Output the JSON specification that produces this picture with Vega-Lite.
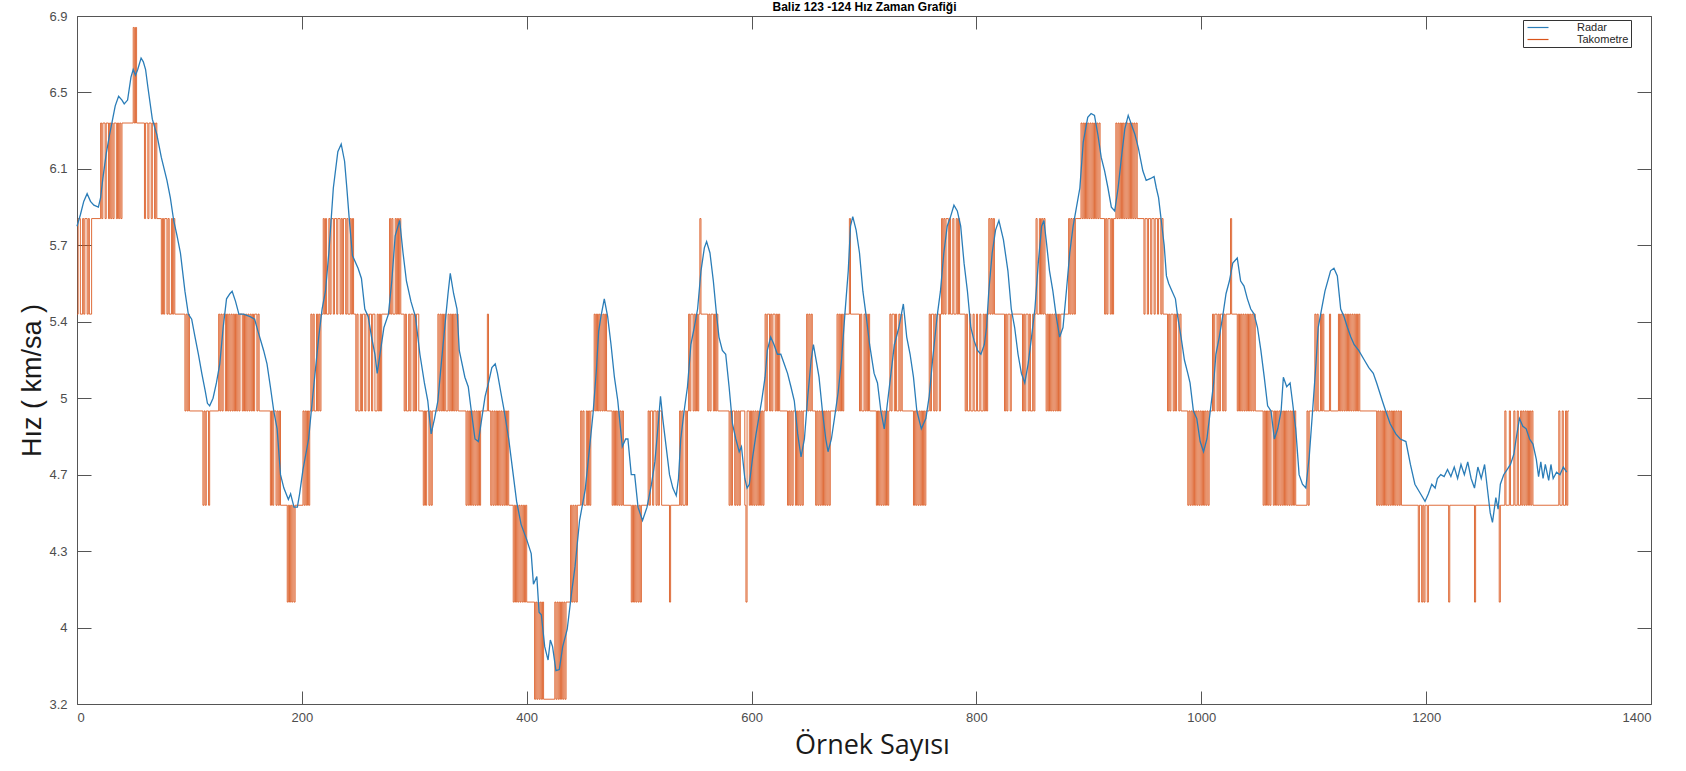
{
  "$schema": "https://vega.github.io/schema/vega-lite/v6.json",
  "width": 1574,
  "height": 688,
  "autosize": {"type": "none"},
  "padding": {"left": 77, "top": 16, "right": 35, "bottom": 67},
  "background": "white",
  "config": {
    "view": {"stroke": "#555555", "strokeWidth": 1},
    "axis": {"grid": false, "domain": false}
  },
  "datasets": {
    "radar": [
      {"n":0,"v":5.8},{"n":3,"v":5.86},{"n":6,"v":5.93},{"n":9,"v":5.97},{"n":12,"v":5.93},{"n":15,"v":5.91},{"n":19,"v":5.9},{"n":21,"v":5.95},{"n":23,"v":6.05},{"n":26,"v":6.18},{"n":29,"v":6.28},{"n":32,"v":6.37},{"n":34,"v":6.43},{"n":37,"v":6.48},{"n":40,"v":6.46},{"n":42,"v":6.44},{"n":45,"v":6.46},{"n":48,"v":6.58},{"n":50,"v":6.62},{"n":52,"v":6.59},{"n":54,"v":6.62},{"n":57,"v":6.68},{"n":59,"v":6.66},{"n":61,"v":6.62},{"n":63,"v":6.53},{"n":67,"v":6.36},{"n":71,"v":6.28},{"n":75,"v":6.16},{"n":80,"v":6.04},{"n":83,"v":5.95},{"n":86,"v":5.83},{"n":89,"v":5.75},{"n":92,"v":5.67},{"n":96,"v":5.52},{"n":99,"v":5.43},{"n":102,"v":5.41},{"n":105,"v":5.32},{"n":108,"v":5.23},{"n":111,"v":5.13},{"n":114,"v":5.04},{"n":116,"v":4.98},{"n":118,"v":4.97},{"n":121,"v":5.0},{"n":124,"v":5.08},{"n":127,"v":5.18},{"n":130,"v":5.37},{"n":133,"v":5.49},{"n":136,"v":5.51},{"n":138,"v":5.52},{"n":141,"v":5.48},{"n":144,"v":5.43},{"n":148,"v":5.43},{"n":154,"v":5.42},{"n":158,"v":5.41},{"n":161,"v":5.35},{"n":166,"v":5.25},{"n":169,"v":5.18},{"n":172,"v":5.06},{"n":175,"v":4.95},{"n":178,"v":4.88},{"n":181,"v":4.7},{"n":184,"v":4.63},{"n":188,"v":4.57},{"n":190,"v":4.6},{"n":193,"v":4.53},{"n":196,"v":4.53},{"n":198,"v":4.6},{"n":201,"v":4.72},{"n":206,"v":4.84},{"n":210,"v":5.03},{"n":215,"v":5.32},{"n":218,"v":5.45},{"n":221,"v":5.52},{"n":224,"v":5.67},{"n":228,"v":6.0},{"n":232,"v":6.19},{"n":235,"v":6.23},{"n":238,"v":6.14},{"n":240,"v":6.0},{"n":242,"v":5.85},{"n":245,"v":5.66},{"n":250,"v":5.61},{"n":253,"v":5.57},{"n":256,"v":5.45},{"n":259,"v":5.42},{"n":262,"v":5.32},{"n":265,"v":5.23},{"n":267,"v":5.13},{"n":270,"v":5.25},{"n":273,"v":5.37},{"n":277,"v":5.43},{"n":280,"v":5.56},{"n":283,"v":5.75},{"n":287,"v":5.83},{"n":290,"v":5.67},{"n":293,"v":5.56},{"n":297,"v":5.48},{"n":301,"v":5.42},{"n":305,"v":5.23},{"n":309,"v":5.08},{"n":312,"v":4.99},{"n":315,"v":4.86},{"n":318,"v":4.92},{"n":321,"v":4.99},{"n":324,"v":5.18},{"n":328,"v":5.42},{"n":330,"v":5.51},{"n":332,"v":5.59},{"n":335,"v":5.51},{"n":338,"v":5.45},{"n":340,"v":5.25},{"n":345,"v":5.11},{"n":348,"v":5.06},{"n":351,"v":4.94},{"n":354,"v":4.84},{"n":357,"v":4.83},{"n":360,"v":4.92},{"n":363,"v":5.01},{"n":366,"v":5.08},{"n":369,"v":5.16},{"n":372,"v":5.18},{"n":374,"v":5.13},{"n":377,"v":5.03},{"n":380,"v":4.95},{"n":384,"v":4.84},{"n":388,"v":4.7},{"n":391,"v":4.56},{"n":395,"v":4.44},{"n":400,"v":4.36},{"n":404,"v":4.29},{"n":406,"v":4.17},{"n":409,"v":4.2},{"n":411,"v":4.06},{"n":413,"v":4.05},{"n":416,"v":3.8},{"n":419,"v":3.66},{"n":421,"v":3.87},{"n":423,"v":3.8},{"n":426,"v":3.55},{"n":429,"v":3.56},{"n":432,"v":3.8},{"n":436,"v":3.98},{"n":440,"v":4.14},{"n":443,"v":4.24},{"n":447,"v":4.46},{"n":452,"v":4.62},{"n":456,"v":4.81},{"n":459,"v":4.94},{"n":462,"v":5.15},{"n":464,"v":5.35},{"n":466,"v":5.42},{"n":469,"v":5.49},{"n":472,"v":5.42},{"n":475,"v":5.28},{"n":478,"v":5.11},{"n":481,"v":4.99},{"n":485,"v":4.81},{"n":488,"v":4.84},{"n":490,"v":4.84},{"n":493,"v":4.7},{"n":496,"v":4.7},{"n":499,"v":4.53},{"n":503,"v":4.46},{"n":507,"v":4.53},{"n":511,"v":4.65},{"n":514,"v":4.75},{"n":517,"v":4.9},{"n":519,"v":5.01},{"n":521,"v":4.92},{"n":524,"v":4.81},{"n":527,"v":4.7},{"n":530,"v":4.63},{"n":533,"v":4.59},{"n":535,"v":4.68},{"n":537,"v":4.84},{"n":540,"v":4.95},{"n":543,"v":5.06},{"n":546,"v":5.28},{"n":549,"v":5.37},{"n":552,"v":5.45},{"n":555,"v":5.6},{"n":558,"v":5.69},{"n":560,"v":5.72},{"n":563,"v":5.67},{"n":566,"v":5.56},{"n":569,"v":5.42},{"n":571,"v":5.32},{"n":574,"v":5.25},{"n":577,"v":5.23},{"n":580,"v":5.06},{"n":583,"v":4.9},{"n":586,"v":4.84},{"n":589,"v":4.79},{"n":591,"v":4.81},{"n":594,"v":4.68},{"n":596,"v":4.63},{"n":598,"v":4.65},{"n":601,"v":4.77},{"n":604,"v":4.86},{"n":609,"v":4.99},{"n":612,"v":5.11},{"n":614,"v":5.25},{"n":617,"v":5.32},{"n":620,"v":5.28},{"n":623,"v":5.23},{"n":626,"v":5.23},{"n":629,"v":5.18},{"n":632,"v":5.13},{"n":635,"v":5.06},{"n":638,"v":4.99},{"n":641,"v":4.86},{"n":644,"v":4.77},{"n":647,"v":4.84},{"n":650,"v":5.01},{"n":653,"v":5.2},{"n":655,"v":5.28},{"n":658,"v":5.18},{"n":660,"v":5.11},{"n":663,"v":4.95},{"n":666,"v":4.84},{"n":668,"v":4.79},{"n":671,"v":4.84},{"n":674,"v":4.93},{"n":677,"v":5.03},{"n":680,"v":5.2},{"n":683,"v":5.43},{"n":686,"v":5.6},{"n":688,"v":5.8},{"n":690,"v":5.85},{"n":693,"v":5.78},{"n":696,"v":5.67},{"n":699,"v":5.52},{"n":702,"v":5.42},{"n":705,"v":5.28},{"n":709,"v":5.13},{"n":712,"v":5.08},{"n":715,"v":4.95},{"n":718,"v":4.88},{"n":720,"v":4.95},{"n":723,"v":5.08},{"n":727,"v":5.28},{"n":731,"v":5.37},{"n":735,"v":5.47},{"n":738,"v":5.32},{"n":741,"v":5.23},{"n":744,"v":5.11},{"n":747,"v":4.95},{"n":751,"v":4.88},{"n":755,"v":4.92},{"n":758,"v":5.01},{"n":761,"v":5.2},{"n":765,"v":5.42},{"n":768,"v":5.52},{"n":771,"v":5.67},{"n":774,"v":5.8},{"n":777,"v":5.85},{"n":780,"v":5.91},{"n":783,"v":5.88},{"n":786,"v":5.8},{"n":789,"v":5.63},{"n":792,"v":5.52},{"n":795,"v":5.37},{"n":798,"v":5.3},{"n":801,"v":5.25},{"n":804,"v":5.23},{"n":807,"v":5.28},{"n":809,"v":5.37},{"n":811,"v":5.52},{"n":814,"v":5.67},{"n":817,"v":5.78},{"n":820,"v":5.83},{"n":824,"v":5.73},{"n":828,"v":5.6},{"n":831,"v":5.45},{"n":834,"v":5.37},{"n":837,"v":5.23},{"n":840,"v":5.13},{"n":843,"v":5.08},{"n":846,"v":5.18},{"n":849,"v":5.32},{"n":852,"v":5.45},{"n":855,"v":5.63},{"n":858,"v":5.8},{"n":860,"v":5.83},{"n":862,"v":5.73},{"n":865,"v":5.6},{"n":868,"v":5.52},{"n":871,"v":5.42},{"n":874,"v":5.32},{"n":877,"v":5.37},{"n":880,"v":5.52},{"n":883,"v":5.67},{"n":886,"v":5.8},{"n":889,"v":5.9},{"n":892,"v":6.0},{"n":895,"v":6.24},{"n":899,"v":6.37},{"n":902,"v":6.39},{"n":905,"v":6.38},{"n":908,"v":6.28},{"n":911,"v":6.16},{"n":914,"v":6.09},{"n":917,"v":6.0},{"n":920,"v":5.9},{"n":923,"v":5.88},{"n":926,"v":6.0},{"n":929,"v":6.16},{"n":932,"v":6.31},{"n":935,"v":6.38},{"n":938,"v":6.33},{"n":941,"v":6.28},{"n":944,"v":6.21},{"n":948,"v":6.09},{"n":951,"v":6.04},{"n":955,"v":6.05},{"n":958,"v":6.06},{"n":960,"v":6.0},{"n":962,"v":5.95},{"n":965,"v":5.8},{"n":967,"v":5.7},{"n":969,"v":5.58},{"n":971,"v":5.55},{"n":974,"v":5.52},{"n":977,"v":5.49},{"n":979,"v":5.42},{"n":982,"v":5.32},{"n":985,"v":5.2},{"n":988,"v":5.13},{"n":990,"v":5.08},{"n":993,"v":4.95},{"n":996,"v":4.92},{"n":999,"v":4.83},{"n":1002,"v":4.79},{"n":1005,"v":4.84},{"n":1008,"v":4.95},{"n":1011,"v":5.08},{"n":1013,"v":5.23},{"n":1016,"v":5.32},{"n":1019,"v":5.42},{"n":1022,"v":5.51},{"n":1025,"v":5.56},{"n":1028,"v":5.63},{"n":1032,"v":5.65},{"n":1035,"v":5.56},{"n":1038,"v":5.54},{"n":1041,"v":5.49},{"n":1044,"v":5.45},{"n":1047,"v":5.43},{"n":1050,"v":5.37},{"n":1053,"v":5.25},{"n":1056,"v":5.11},{"n":1059,"v":4.97},{"n":1062,"v":4.95},{"n":1065,"v":4.84},{"n":1068,"v":4.88},{"n":1071,"v":4.95},{"n":1073,"v":5.11},{"n":1076,"v":5.06},{"n":1079,"v":5.08},{"n":1081,"v":4.99},{"n":1084,"v":4.88},{"n":1087,"v":4.7},{"n":1090,"v":4.65},{"n":1093,"v":4.63},{"n":1096,"v":4.77},{"n":1099,"v":4.95},{"n":1102,"v":5.18},{"n":1104,"v":5.37},{"n":1107,"v":5.45},{"n":1110,"v":5.52},{"n":1115,"v":5.6},{"n":1118,"v":5.61},{"n":1121,"v":5.58},{"n":1124,"v":5.45},{"n":1127,"v":5.42},{"n":1130,"v":5.37},{"n":1133,"v":5.32},{"n":1136,"v":5.28},{"n":1140,"v":5.25},{"n":1145,"v":5.2},{"n":1149,"v":5.16},{"n":1153,"v":5.13},{"n":1156,"v":5.08},{"n":1161,"v":4.99},{"n":1164,"v":4.95},{"n":1168,"v":4.9},{"n":1173,"v":4.86},{"n":1177,"v":4.84},{"n":1182,"v":4.83},{"n":1186,"v":4.74},{"n":1190,"v":4.65},{"n":1195,"v":4.6},{"n":1199,"v":4.56},{"n":1202,"v":4.6},{"n":1205,"v":4.65},{"n":1208,"v":4.63},{"n":1210,"v":4.68},{"n":1213,"v":4.7},{"n":1216,"v":4.69},{"n":1219,"v":4.72},{"n":1222,"v":4.69},{"n":1225,"v":4.73},{"n":1228,"v":4.68},{"n":1231,"v":4.74},{"n":1234,"v":4.7},{"n":1237,"v":4.75},{"n":1240,"v":4.68},{"n":1243,"v":4.63},{"n":1246,"v":4.73},{"n":1249,"v":4.68},{"n":1252,"v":4.74},{"n":1255,"v":4.6},{"n":1257,"v":4.5},{"n":1259,"v":4.45},{"n":1262,"v":4.58},{"n":1264,"v":4.52},{"n":1266,"v":4.65},{"n":1269,"v":4.7},{"n":1272,"v":4.72},{"n":1275,"v":4.74},{"n":1278,"v":4.78},{"n":1280,"v":4.84},{"n":1283,"v":4.92},{"n":1286,"v":4.89},{"n":1289,"v":4.88},{"n":1292,"v":4.84},{"n":1295,"v":4.82},{"n":1298,"v":4.76},{"n":1300,"v":4.69},{"n":1302,"v":4.75},{"n":1304,"v":4.68},{"n":1306,"v":4.74},{"n":1309,"v":4.67},{"n":1311,"v":4.74},{"n":1313,"v":4.68},{"n":1316,"v":4.71},{"n":1319,"v":4.7},{"n":1322,"v":4.73},{"n":1325,"v":4.71}
    ],
    "tako": [
      {"n":0,"v":5.43},{"n":1,"v":5.84},{"n":3,"v":5.43},{"n":5,"v":5.84},{"n":6,"v":5.43},{"n":7,"v":5.84},{"n":9,"v":5.43},{"n":10,"v":5.84},{"n":11,"v":5.43},{"n":13,"v":5.84},
      {"n":21,"v":6.34},{"n":22,"v":5.84},{"n":23,"v":6.34},{"n":25,"v":5.84},{"n":26,"v":6.34},{"n":28,"v":5.84},{"n":29,"v":6.34},{"n":30,"v":5.84},{"n":31,"v":6.34},{"n":32,"v":5.84},{"n":33,"v":6.34},{"n":35,"v":5.84},{"n":36,"v":6.34},{"n":37,"v":5.84},{"n":38,"v":6.34},{"n":39,"v":5.84},{"n":40,"v":6.34},
      {"n":50,"v":6.84},{"n":51,"v":6.34},{"n":52,"v":6.84},{"n":53,"v":6.34},
      {"n":60,"v":5.84},{"n":61,"v":6.34},{"n":63,"v":5.84},{"n":64,"v":6.34},{"n":66,"v":5.84},{"n":67,"v":6.34},{"n":69,"v":5.84},{"n":70,"v":6.34},{"n":71,"v":5.84},
      {"n":75,"v":5.43},{"n":76,"v":5.84},{"n":77,"v":5.43},{"n":78,"v":5.84},{"n":80,"v":5.43},{"n":81,"v":5.84},{"n":82,"v":5.43},{"n":84,"v":5.84},{"n":85,"v":5.43},{"n":86,"v":5.84},{"n":87,"v":5.43},
      {"n":96,"v":4.95},{"n":97,"v":5.43},{"n":98,"v":4.95},{"n":99,"v":5.43},{"n":100,"v":4.95},
      {"n":112,"v":4.54},{"n":113,"v":4.95},{"n":114,"v":4.54},{"n":115,"v":4.95},{"n":117,"v":4.54},{"n":118,"v":4.95},
      {"n":126,"v":5.43},{"n":127,"v":4.95},{"n":128,"v":5.43},{"n":129,"v":4.95},{"n":130,"v":5.43},{"n":132,"v":4.95},{"n":133,"v":5.43},{"n":134,"v":4.95},{"n":135,"v":5.43},{"n":136,"v":4.95},{"n":137,"v":5.43},{"n":138,"v":4.95},{"n":139,"v":5.43},{"n":140,"v":4.95},{"n":141,"v":5.43},{"n":142,"v":4.95},{"n":143,"v":5.43},{"n":144,"v":4.95},{"n":145,"v":5.43},{"n":147,"v":4.95},{"n":148,"v":5.43},{"n":149,"v":4.95},{"n":150,"v":5.43},{"n":151,"v":4.95},{"n":152,"v":5.43},{"n":153,"v":4.95},{"n":154,"v":5.43},{"n":155,"v":4.95},{"n":156,"v":5.43},{"n":157,"v":4.95},{"n":158,"v":5.43},{"n":160,"v":4.95},{"n":161,"v":5.43},{"n":162,"v":4.95},
      {"n":172,"v":4.54},{"n":173,"v":4.95},{"n":174,"v":4.54},{"n":175,"v":4.95},{"n":177,"v":4.54},{"n":178,"v":4.95},{"n":179,"v":4.54},{"n":180,"v":4.95},{"n":181,"v":4.54},
      {"n":187,"v":4.1},{"n":188,"v":4.54},{"n":189,"v":4.1},{"n":190,"v":4.54},{"n":191,"v":4.1},{"n":192,"v":4.54},{"n":193,"v":4.1},{"n":194,"v":4.54},
      {"n":201,"v":4.95},{"n":202,"v":4.54},{"n":203,"v":4.95},{"n":204,"v":4.54},{"n":205,"v":4.95},{"n":206,"v":4.54},{"n":207,"v":4.95},
      {"n":208,"v":5.43},{"n":209,"v":4.95},{"n":210,"v":5.43},{"n":211,"v":4.95},{"n":213,"v":5.43},{"n":214,"v":4.95},{"n":215,"v":5.43},{"n":216,"v":4.95},{"n":217,"v":5.43},
      {"n":219,"v":5.84},{"n":220,"v":5.43},{"n":221,"v":5.84},{"n":222,"v":5.43},{"n":224,"v":5.84},{"n":225,"v":5.43},{"n":226,"v":5.84},{"n":228,"v":5.43},{"n":229,"v":5.84},{"n":231,"v":5.43},{"n":232,"v":5.84},{"n":234,"v":5.43},{"n":235,"v":5.84},{"n":236,"v":5.43},{"n":237,"v":5.84},{"n":239,"v":5.43},{"n":240,"v":5.84},{"n":241,"v":5.43},{"n":243,"v":5.84},{"n":244,"v":5.43},{"n":245,"v":5.84},{"n":246,"v":5.43},
      {"n":248,"v":4.95},{"n":249,"v":5.43},{"n":250,"v":4.95},{"n":252,"v":5.43},{"n":253,"v":4.95},{"n":254,"v":5.43},{"n":256,"v":4.95},{"n":257,"v":5.43},{"n":259,"v":4.95},{"n":260,"v":5.43},{"n":262,"v":4.95},{"n":263,"v":5.43},{"n":265,"v":4.95},{"n":267,"v":5.43},{"n":268,"v":4.95},{"n":269,"v":5.43},{"n":270,"v":4.95},{"n":271,"v":5.43},
      {"n":278,"v":5.84},{"n":279,"v":5.43},{"n":280,"v":5.84},{"n":281,"v":5.43},{"n":283,"v":5.84},{"n":284,"v":5.43},{"n":285,"v":5.84},{"n":286,"v":5.43},{"n":287,"v":5.84},{"n":288,"v":5.43},
      {"n":291,"v":4.95},{"n":292,"v":5.43},{"n":293,"v":4.95},{"n":295,"v":5.43},{"n":296,"v":4.95},{"n":297,"v":5.43},{"n":299,"v":4.95},{"n":300,"v":5.43},{"n":301,"v":4.95},{"n":302,"v":5.43},{"n":304,"v":4.95},
      {"n":308,"v":4.54},{"n":309,"v":4.95},{"n":310,"v":4.54},{"n":311,"v":4.95},{"n":313,"v":4.54},{"n":314,"v":4.95},{"n":315,"v":4.54},{"n":316,"v":4.95},
      {"n":321,"v":5.43},{"n":322,"v":4.95},{"n":323,"v":5.43},{"n":324,"v":4.95},{"n":325,"v":5.43},{"n":326,"v":4.95},{"n":327,"v":5.43},{"n":328,"v":4.95},{"n":330,"v":5.43},{"n":331,"v":4.95},{"n":332,"v":5.43},{"n":333,"v":4.95},{"n":334,"v":5.43},{"n":335,"v":4.95},{"n":336,"v":5.43},{"n":337,"v":4.95},{"n":338,"v":5.43},{"n":339,"v":4.95},
      {"n":346,"v":4.54},{"n":347,"v":4.95},{"n":348,"v":4.54},{"n":349,"v":4.95},{"n":350,"v":4.54},{"n":351,"v":4.95},{"n":352,"v":4.54},{"n":353,"v":4.95},{"n":354,"v":4.54},{"n":355,"v":4.95},{"n":356,"v":4.54},{"n":357,"v":4.95},{"n":358,"v":4.54},{"n":359,"v":4.95},
      {"n":365,"v":5.43},{"n":366,"v":4.95},
      {"n":368,"v":4.54},{"n":369,"v":4.95},{"n":370,"v":4.54},{"n":371,"v":4.95},{"n":372,"v":4.54},{"n":373,"v":4.95},{"n":374,"v":4.54},{"n":375,"v":4.95},{"n":376,"v":4.54},{"n":377,"v":4.95},{"n":378,"v":4.54},{"n":379,"v":4.95},{"n":380,"v":4.54},{"n":381,"v":4.95},{"n":382,"v":4.54},{"n":383,"v":4.95},{"n":384,"v":4.54},
      {"n":388,"v":4.1},{"n":389,"v":4.54},{"n":390,"v":4.1},{"n":391,"v":4.54},{"n":392,"v":4.1},{"n":393,"v":4.54},{"n":394,"v":4.1},{"n":395,"v":4.54},{"n":396,"v":4.1},{"n":397,"v":4.54},{"n":398,"v":4.1},{"n":399,"v":4.54},{"n":400,"v":4.1},
      {"n":407,"v":3.25},{"n":408,"v":4.1},{"n":409,"v":3.25},{"n":410,"v":4.1},{"n":411,"v":3.25},{"n":412,"v":4.1},{"n":413,"v":3.25},{"n":414,"v":4.1},{"n":415,"v":3.25},
      {"n":425,"v":4.1},{"n":426,"v":3.25},{"n":427,"v":4.1},{"n":428,"v":3.25},{"n":429,"v":4.1},{"n":430,"v":3.25},{"n":431,"v":4.1},{"n":432,"v":3.25},{"n":433,"v":4.1},{"n":434,"v":3.25},{"n":435,"v":4.1},
      {"n":439,"v":4.54},{"n":440,"v":4.1},{"n":441,"v":4.54},{"n":442,"v":4.1},{"n":443,"v":4.54},{"n":444,"v":4.1},{"n":445,"v":4.54},
      {"n":448,"v":4.95},{"n":449,"v":4.54},{"n":450,"v":4.95},{"n":451,"v":4.54},{"n":453,"v":4.95},{"n":454,"v":4.54},{"n":455,"v":4.95},{"n":456,"v":4.54},{"n":457,"v":4.95},
      {"n":460,"v":5.43},{"n":461,"v":4.95},{"n":462,"v":5.43},{"n":463,"v":4.95},{"n":464,"v":5.43},{"n":465,"v":4.95},{"n":466,"v":5.43},{"n":467,"v":4.95},{"n":468,"v":5.43},{"n":469,"v":4.95},{"n":470,"v":5.43},{"n":471,"v":4.95},
      {"n":476,"v":4.54},{"n":477,"v":4.95},{"n":478,"v":4.54},{"n":479,"v":4.95},{"n":480,"v":4.54},{"n":481,"v":4.95},{"n":482,"v":4.54},{"n":483,"v":4.95},{"n":484,"v":4.54},{"n":485,"v":4.95},{"n":486,"v":4.54},
      {"n":493,"v":4.1},{"n":494,"v":4.54},{"n":495,"v":4.1},{"n":496,"v":4.54},{"n":497,"v":4.1},{"n":498,"v":4.54},{"n":499,"v":4.1},{"n":500,"v":4.54},{"n":501,"v":4.1},{"n":502,"v":4.54},
      {"n":508,"v":4.95},{"n":509,"v":4.54},{"n":510,"v":4.95},{"n":512,"v":4.54},{"n":513,"v":4.95},{"n":515,"v":4.54},{"n":516,"v":4.95},{"n":517,"v":4.54},{"n":518,"v":4.95},{"n":520,"v":4.54},
      {"n":527,"v":4.1},{"n":528,"v":4.54},
      {"n":536,"v":4.95},{"n":537,"v":4.54},{"n":538,"v":4.95},{"n":539,"v":4.54},{"n":541,"v":4.95},{"n":542,"v":4.54},{"n":543,"v":4.95},
      {"n":544,"v":5.43},{"n":545,"v":4.95},{"n":546,"v":5.43},{"n":548,"v":4.95},{"n":549,"v":5.43},{"n":550,"v":4.95},{"n":551,"v":5.43},{"n":552,"v":4.95},{"n":553,"v":5.43},
      {"n":554,"v":5.84},{"n":555,"v":5.43},
      {"n":561,"v":4.95},{"n":562,"v":5.43},{"n":563,"v":4.95},{"n":564,"v":5.43},{"n":566,"v":4.95},{"n":567,"v":5.43},{"n":568,"v":4.95},{"n":569,"v":5.43},{"n":570,"v":4.95},
      {"n":580,"v":4.54},{"n":581,"v":4.95},{"n":582,"v":4.54},{"n":583,"v":4.95},{"n":585,"v":4.54},{"n":586,"v":4.95},{"n":587,"v":4.54},{"n":588,"v":4.95},{"n":589,"v":4.54},{"n":590,"v":4.95},
      {"n":594,"v":4.54},{"n":595,"v":4.1},{"n":596,"v":4.95},
      {"n":598,"v":4.54},{"n":599,"v":4.95},{"n":600,"v":4.54},{"n":601,"v":4.95},{"n":602,"v":4.54},{"n":603,"v":4.95},{"n":604,"v":4.54},{"n":605,"v":4.95},{"n":606,"v":4.54},{"n":607,"v":4.95},{"n":608,"v":4.54},{"n":609,"v":4.95},{"n":610,"v":4.54},{"n":611,"v":4.95},
      {"n":612,"v":5.43},{"n":613,"v":4.95},{"n":614,"v":5.43},{"n":616,"v":4.95},{"n":617,"v":5.43},{"n":618,"v":4.95},{"n":619,"v":5.43},{"n":621,"v":4.95},{"n":622,"v":5.43},{"n":623,"v":4.95},{"n":624,"v":5.43},{"n":625,"v":4.95},
      {"n":632,"v":4.54},{"n":633,"v":4.95},{"n":634,"v":4.54},{"n":635,"v":4.95},{"n":636,"v":4.54},{"n":637,"v":4.95},{"n":639,"v":4.54},{"n":640,"v":4.95},{"n":641,"v":4.54},{"n":642,"v":4.95},{"n":643,"v":4.54},{"n":644,"v":4.95},{"n":645,"v":4.54},{"n":646,"v":4.95},
      {"n":649,"v":5.43},{"n":650,"v":4.95},{"n":651,"v":5.43},{"n":652,"v":4.95},{"n":653,"v":5.43},{"n":654,"v":4.95},
      {"n":657,"v":4.54},{"n":658,"v":4.95},{"n":659,"v":4.54},{"n":660,"v":4.95},{"n":661,"v":4.54},{"n":662,"v":4.95},{"n":663,"v":4.54},{"n":664,"v":4.95},{"n":665,"v":4.54},{"n":666,"v":4.95},{"n":667,"v":4.54},{"n":668,"v":4.95},{"n":669,"v":4.54},{"n":670,"v":4.95},
      {"n":676,"v":5.43},{"n":677,"v":4.95},{"n":678,"v":5.43},{"n":679,"v":4.95},{"n":680,"v":5.43},{"n":681,"v":4.95},{"n":682,"v":5.43},
      {"n":687,"v":5.84},{"n":688,"v":5.43},
      {"n":696,"v":4.95},{"n":697,"v":5.43},{"n":698,"v":4.95},{"n":700,"v":5.43},{"n":701,"v":4.95},{"n":702,"v":5.43},{"n":703,"v":4.95},{"n":704,"v":5.43},{"n":705,"v":4.95},
      {"n":711,"v":4.54},{"n":712,"v":4.95},{"n":713,"v":4.54},{"n":714,"v":4.95},{"n":715,"v":4.54},{"n":716,"v":4.95},{"n":717,"v":4.54},{"n":718,"v":4.95},{"n":719,"v":4.54},{"n":720,"v":4.95},{"n":721,"v":4.54},{"n":722,"v":4.95},
      {"n":723,"v":5.43},{"n":724,"v":4.95},{"n":725,"v":5.43},{"n":727,"v":4.95},{"n":728,"v":5.43},{"n":729,"v":4.95},{"n":731,"v":5.43},{"n":732,"v":4.95},{"n":733,"v":5.43},{"n":734,"v":4.95},
      {"n":744,"v":4.54},{"n":745,"v":4.95},{"n":746,"v":4.54},{"n":747,"v":4.95},{"n":748,"v":4.54},{"n":749,"v":4.95},{"n":750,"v":4.54},{"n":751,"v":4.95},{"n":752,"v":4.54},{"n":753,"v":4.95},{"n":754,"v":4.54},{"n":755,"v":4.95},
      {"n":758,"v":5.43},{"n":759,"v":4.95},{"n":760,"v":5.43},{"n":762,"v":4.95},{"n":763,"v":5.43},{"n":764,"v":4.95},{"n":765,"v":5.43},{"n":767,"v":4.95},{"n":768,"v":5.43},
      {"n":769,"v":5.84},{"n":770,"v":5.43},{"n":771,"v":5.84},{"n":772,"v":5.43},{"n":773,"v":5.84},{"n":775,"v":5.43},{"n":776,"v":5.84},{"n":777,"v":5.43},{"n":779,"v":5.84},{"n":780,"v":5.43},{"n":782,"v":5.84},{"n":783,"v":5.43},{"n":784,"v":5.84},{"n":785,"v":5.43},
      {"n":790,"v":4.95},{"n":791,"v":5.43},{"n":792,"v":4.95},{"n":794,"v":5.43},{"n":795,"v":4.95},{"n":797,"v":5.43},{"n":798,"v":4.95},{"n":800,"v":5.43},{"n":801,"v":4.95},{"n":803,"v":5.43},{"n":804,"v":4.95},{"n":806,"v":5.43},{"n":807,"v":4.95},{"n":808,"v":5.43},{"n":809,"v":4.95},{"n":810,"v":5.43},
      {"n":811,"v":5.84},{"n":812,"v":5.43},{"n":813,"v":5.84},{"n":814,"v":5.43},{"n":815,"v":5.84},{"n":816,"v":5.43},
      {"n":825,"v":4.95},{"n":826,"v":5.43},{"n":827,"v":4.95},{"n":828,"v":5.43},{"n":830,"v":4.95},{"n":831,"v":5.43},
      {"n":841,"v":4.95},{"n":842,"v":5.43},{"n":843,"v":4.95},{"n":844,"v":5.43},{"n":846,"v":4.95},{"n":847,"v":5.43},{"n":848,"v":4.95},{"n":850,"v":5.43},{"n":851,"v":4.95},{"n":852,"v":5.43},
      {"n":853,"v":5.84},{"n":854,"v":5.43},{"n":856,"v":5.84},{"n":857,"v":5.43},{"n":858,"v":5.84},{"n":859,"v":5.43},{"n":860,"v":5.84},{"n":861,"v":5.43},
      {"n":862,"v":4.95},{"n":863,"v":5.43},{"n":864,"v":4.95},{"n":865,"v":5.43},{"n":866,"v":4.95},{"n":867,"v":5.43},{"n":868,"v":4.95},{"n":869,"v":5.43},{"n":870,"v":4.95},{"n":871,"v":5.43},{"n":872,"v":4.95},{"n":873,"v":5.43},{"n":874,"v":4.95},{"n":875,"v":5.43},
      {"n":882,"v":5.84},{"n":883,"v":5.43},{"n":884,"v":5.84},{"n":885,"v":5.43},{"n":886,"v":5.84},{"n":887,"v":5.43},{"n":888,"v":5.84},
      {"n":893,"v":6.34},{"n":894,"v":5.84},{"n":895,"v":6.34},{"n":896,"v":5.84},{"n":897,"v":6.34},{"n":898,"v":5.84},{"n":899,"v":6.34},{"n":900,"v":5.84},{"n":901,"v":6.34},{"n":902,"v":5.84},{"n":903,"v":6.34},{"n":904,"v":5.84},{"n":905,"v":6.34},{"n":906,"v":5.84},{"n":907,"v":6.34},{"n":908,"v":5.84},{"n":909,"v":6.34},{"n":910,"v":5.84},
      {"n":914,"v":5.43},{"n":915,"v":5.84},{"n":916,"v":5.43},{"n":917,"v":5.84},{"n":919,"v":5.43},{"n":920,"v":5.84},{"n":921,"v":5.43},{"n":922,"v":5.84},
      {"n":924,"v":6.34},{"n":925,"v":5.84},{"n":926,"v":6.34},{"n":927,"v":5.84},{"n":928,"v":6.34},{"n":929,"v":5.84},{"n":930,"v":6.34},{"n":931,"v":5.84},{"n":932,"v":6.34},{"n":933,"v":5.84},{"n":934,"v":6.34},{"n":935,"v":5.84},{"n":936,"v":6.34},{"n":937,"v":5.84},{"n":938,"v":6.34},{"n":939,"v":5.84},{"n":940,"v":6.34},{"n":941,"v":5.84},{"n":942,"v":6.34},{"n":943,"v":5.84},
      {"n":949,"v":5.43},{"n":950,"v":5.84},{"n":952,"v":5.43},{"n":953,"v":5.84},{"n":955,"v":5.43},{"n":956,"v":5.84},{"n":958,"v":5.43},{"n":959,"v":5.84},{"n":961,"v":5.43},{"n":962,"v":5.84},{"n":964,"v":5.43},{"n":965,"v":5.84},{"n":966,"v":5.43},
      {"n":970,"v":4.95},{"n":971,"v":5.43},{"n":972,"v":4.95},{"n":973,"v":5.43},{"n":975,"v":4.95},{"n":976,"v":5.43},{"n":977,"v":4.95},{"n":978,"v":5.43},{"n":980,"v":4.95},{"n":981,"v":5.43},{"n":982,"v":4.95},
      {"n":988,"v":4.54},{"n":989,"v":4.95},{"n":990,"v":4.54},{"n":991,"v":4.95},{"n":992,"v":4.54},{"n":993,"v":4.95},{"n":994,"v":4.54},{"n":995,"v":4.95},{"n":996,"v":4.54},{"n":997,"v":4.95},{"n":998,"v":4.54},{"n":999,"v":4.95},{"n":1000,"v":4.54},{"n":1001,"v":4.95},{"n":1002,"v":4.54},{"n":1003,"v":4.95},{"n":1004,"v":4.54},{"n":1005,"v":4.95},{"n":1006,"v":4.54},{"n":1007,"v":4.95},
      {"n":1010,"v":5.43},{"n":1011,"v":4.95},{"n":1012,"v":5.43},{"n":1014,"v":4.95},{"n":1015,"v":5.43},{"n":1016,"v":4.95},{"n":1017,"v":5.43},{"n":1019,"v":4.95},{"n":1020,"v":5.43},{"n":1021,"v":4.95},{"n":1022,"v":5.43},
      {"n":1026,"v":5.84},{"n":1027,"v":5.43},
      {"n":1032,"v":4.95},{"n":1033,"v":5.43},{"n":1034,"v":4.95},{"n":1035,"v":5.43},{"n":1036,"v":4.95},{"n":1037,"v":5.43},{"n":1038,"v":4.95},{"n":1039,"v":5.43},{"n":1040,"v":4.95},{"n":1041,"v":5.43},{"n":1042,"v":4.95},{"n":1043,"v":5.43},{"n":1044,"v":4.95},{"n":1045,"v":5.43},{"n":1046,"v":4.95},{"n":1047,"v":5.43},{"n":1048,"v":4.95},
      {"n":1055,"v":4.54},{"n":1056,"v":4.95},{"n":1057,"v":4.54},{"n":1058,"v":4.95},{"n":1059,"v":4.54},{"n":1060,"v":4.95},{"n":1061,"v":4.54},{"n":1062,"v":4.95},{"n":1064,"v":4.54},{"n":1065,"v":4.95},{"n":1066,"v":4.54},{"n":1067,"v":4.95},{"n":1068,"v":4.54},{"n":1069,"v":4.95},{"n":1070,"v":4.54},{"n":1071,"v":4.95},{"n":1072,"v":4.54},{"n":1073,"v":4.95},{"n":1074,"v":4.54},{"n":1075,"v":4.95},{"n":1076,"v":4.54},{"n":1077,"v":4.95},{"n":1078,"v":4.54},{"n":1079,"v":4.95},{"n":1080,"v":4.54},{"n":1081,"v":4.95},{"n":1082,"v":4.54},{"n":1083,"v":4.95},{"n":1084,"v":4.54},
      {"n":1094,"v":4.95},{"n":1095,"v":4.54},{"n":1096,"v":4.95},
      {"n":1101,"v":5.43},{"n":1102,"v":4.95},{"n":1103,"v":5.43},{"n":1104,"v":4.95},{"n":1106,"v":5.43},{"n":1107,"v":4.95},{"n":1108,"v":5.43},{"n":1109,"v":4.95},
      {"n":1114,"v":5.43},{"n":1115,"v":4.95},
      {"n":1122,"v":5.43},{"n":1123,"v":4.95},{"n":1124,"v":5.43},{"n":1125,"v":4.95},{"n":1126,"v":5.43},{"n":1127,"v":4.95},{"n":1128,"v":5.43},{"n":1129,"v":4.95},{"n":1130,"v":5.43},{"n":1131,"v":4.95},{"n":1132,"v":5.43},{"n":1133,"v":4.95},{"n":1134,"v":5.43},{"n":1135,"v":4.95},{"n":1136,"v":5.43},{"n":1137,"v":4.95},{"n":1138,"v":5.43},{"n":1139,"v":4.95},{"n":1140,"v":5.43},{"n":1141,"v":4.95},
      {"n":1156,"v":4.54},{"n":1157,"v":4.95},{"n":1158,"v":4.54},{"n":1159,"v":4.95},{"n":1160,"v":4.54},{"n":1161,"v":4.95},{"n":1162,"v":4.54},{"n":1163,"v":4.95},{"n":1164,"v":4.54},{"n":1165,"v":4.95},{"n":1166,"v":4.54},{"n":1167,"v":4.95},{"n":1168,"v":4.54},{"n":1169,"v":4.95},{"n":1170,"v":4.54},{"n":1171,"v":4.95},{"n":1172,"v":4.54},{"n":1173,"v":4.95},{"n":1174,"v":4.54},{"n":1175,"v":4.95},{"n":1176,"v":4.54},{"n":1177,"v":4.95},{"n":1178,"v":4.54},
      {"n":1193,"v":4.1},{"n":1194,"v":4.54},{"n":1196,"v":4.1},{"n":1197,"v":4.54},{"n":1198,"v":4.1},{"n":1199,"v":4.54},{"n":1201,"v":4.1},{"n":1202,"v":4.54},
      {"n":1220,"v":4.1},{"n":1221,"v":4.54},{"n":1243,"v":4.1},{"n":1244,"v":4.54},{"n":1265,"v":4.1},{"n":1266,"v":4.54},
      {"n":1270,"v":4.95},{"n":1271,"v":4.54},{"n":1274,"v":4.95},{"n":1275,"v":4.54},{"n":1278,"v":4.95},{"n":1279,"v":4.54},{"n":1281,"v":4.95},{"n":1282,"v":4.54},{"n":1284,"v":4.95},{"n":1285,"v":4.54},{"n":1286,"v":4.95},{"n":1287,"v":4.54},{"n":1288,"v":4.95},{"n":1289,"v":4.54},{"n":1290,"v":4.95},{"n":1291,"v":4.54},{"n":1292,"v":4.95},{"n":1293,"v":4.54},{"n":1294,"v":4.95},{"n":1295,"v":4.54},
      {"n":1318,"v":4.95},{"n":1319,"v":4.54},{"n":1321,"v":4.95},{"n":1322,"v":4.54},{"n":1324,"v":4.95},{"n":1325,"v":4.54},{"n":1326,"v":4.95},{"n":1327,"v":4.95}
    ]
  },
  "layer": [
    {
      "data": {"name": "tako"},
      "mark": {"type": "line", "interpolate": "step-after", "strokeWidth": 1, "strokeOpacity": 0.85},
      "encoding": {
        "x": {"field": "n", "type": "quantitative", "scale": {"domain": [0, 1400], "nice": false, "zero": false}, "axis": null},
        "y": {"field": "v", "type": "quantitative", "scale": {"type": "linear", "domain": [3.2, 4, 4.3, 4.7, 5, 5.4, 5.7, 6.1, 6.5, 6.9], "range": [688, 611.556, 535.111, 458.667, 382.222, 305.778, 229.333, 152.889, 76.444, 0], "nice": false, "zero": false}, "axis": null},
        "color": {
          "datum": "Takometre",
          "type": "nominal",
          "scale": {"domain": ["Radar", "Takometre"], "range": ["#2a7db8", "#D95319"]},
          "legend": {
            "title": null,
            "orient": "none",
            "legendX": 1446,
            "legendY": 4,
            "direction": "vertical",
            "symbolType": "M-1,0H6",
            "symbolSize": 36,
            "symbolStrokeWidth": 1.2,
            "labelFont": "Liberation Sans",
            "labelFontSize": 11,
            "labelColor": "#262626",
            "labelOffset": 41,
            "rowPadding": 0,
            "padding": 2,
            "strokeColor": "#333333",
            "fillColor": "white"
          }
        }
      }
    },
    {
      "data": {"name": "radar"},
      "mark": {"type": "line", "strokeWidth": 1.3},
      "encoding": {
        "x": {
          "field": "n", "type": "quantitative",
          "scale": {"domain": [0, 1400], "nice": false, "zero": false},
          "axis": {
            "orient": "bottom",
            "values": [0, 200, 400, 600, 800, 1000, 1200, 1400],
            "format": "d",
            "tickSize": -13,
            "tickColor": "#555555",
            "labelFont": "Liberation Sans",
            "labelFontSize": 13,
            "labelColor": "#4d4d4d",
            "labelPadding": 20,
            "title": "Örnek Sayısı",
            "titleFont": "Open Sans",
            "titleFontSize": 27,
            "titleFontWeight": "normal",
            "titleColor": "#1a1a1a",
            "titleX": 795,
            "titleY": 41,
            "titleBaseline": "middle"
          }
        },
        "y": {
          "field": "v", "type": "quantitative",
          "scale": {"type": "linear", "domain": [3.2, 4, 4.3, 4.7, 5, 5.4, 5.7, 6.1, 6.5, 6.9], "range": [688, 611.556, 535.111, 458.667, 382.222, 305.778, 229.333, 152.889, 76.444, 0], "nice": false, "zero": false},
          "axis": {
            "orient": "left",
            "values": [3.2, 4, 4.3, 4.7, 5, 5.4, 5.7, 6.1, 6.5, 6.9],
            "format": "~g",
            "tickSize": -14,
            "tickColor": "#555555",
            "labelFont": "Liberation Sans",
            "labelFontSize": 13,
            "labelColor": "#4d4d4d",
            "labelPadding": 24,
            "title": "Hız ( km/sa )",
            "titleFont": "Liberation Sans",
            "titleFontSize": 27,
            "titleFontWeight": "normal",
            "titleColor": "#1a1a1a",
            "titleAngle": -90,
            "titleX": -45,
            "titleY": 364,
            "titleAlign": "center",
            "titleBaseline": "middle"
          }
        },
        "color": {"datum": "Radar", "type": "nominal"}
      }
    },
    {
      "data": {"name": "radar"},
      "mark": {"type": "point", "opacity": 0},
      "encoding": {
        "x": {
          "field": "n", "type": "quantitative",
          "scale": {"domain": [0, 1400], "nice": false, "zero": false},
          "axis": {
            "orient": "top",
            "values": [0, 200, 400, 600, 800, 1000, 1200, 1400],
            "labels": false,
            "tickSize": -13,
            "tickColor": "#555555",
            "title": "Baliz 123 -124 Hız Zaman Grafiği",
            "titleFont": "Liberation Sans",
            "titleFontSize": 12,
            "titleFontWeight": "bold",
            "titleColor": "#000000",
            "titleAngle": 0,
            "titleX": 787,
            "titleY": -6,
            "titleAlign": "center",
            "titleBaseline": "alphabetic"
          }
        },
        "y": {
          "field": "v", "type": "quantitative",
          "scale": {"type": "linear", "domain": [3.2, 4, 4.3, 4.7, 5, 5.4, 5.7, 6.1, 6.5, 6.9], "range": [688, 611.556, 535.111, 458.667, 382.222, 305.778, 229.333, 152.889, 76.444, 0], "nice": false, "zero": false},
          "axis": {"orient": "right", "values": [3.2, 4, 4.3, 4.7, 5, 5.4, 5.7, 6.1, 6.5, 6.9], "labels": false, "tickSize": -14, "tickColor": "#555555", "title": null}
        }
      }
    }
  ],
  "resolve": {"axis": {"x": "independent", "y": "independent"}}
}
